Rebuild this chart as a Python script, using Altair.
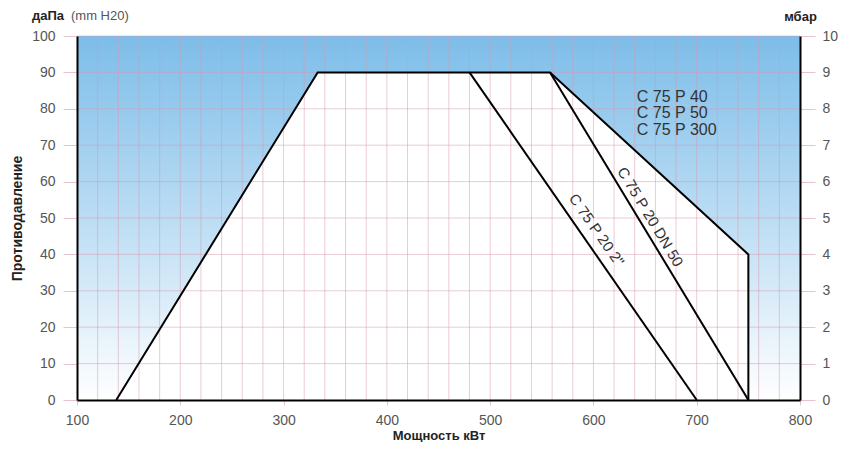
import altair as alt
import pandas as pd

# ---- data ----
x_ticks = [100, 200, 300, 400, 500, 600, 700, 800]
y_ticks = [0, 10, 20, 30, 40, 50, 60, 70, 80, 90, 100]
grid_x = list(range(120, 800, 20))
grid_y = list(range(10, 101, 10))

env_x = [138, 333, 558, 750, 750]
env_y = [0, 90, 90, 40, 0]

line_2in_x = [480, 700]
line_2in_y = [90, 0]
line_dn50_x = [558, 750]
line_dn50_y = [90, 0]

legend_lines = ["C 75 P 40", "C 75 P 50", "C 75 P 300"]
legend_y = [83.2, 78.8, 74.2]
legend_x = [642, 642, 642]

dn50_label = ["C 75 P 20 DN 50"]
dn50_x = [655]
dn50_y = [50.3]
in2_label = ['C 75 P 20 2"']
in2_x = [603]
in2_y = [46.7]

FONT = "Liberation Sans"
GRID = "#d89aae"

xs = alt.Scale(domain=[100, 800], nice=False, zero=False)
ys = alt.Scale(domain=[0, 100], nice=False, zero=False)

# background gradient rect
bg_df = pd.DataFrame({"x": [100], "x2": [800], "y": [0], "y2": [100]})
bg = alt.Chart(bg_df).mark_rect(
    fill=alt.Gradient(
        gradient="linear",
        stops=[alt.GradientStop(color="#7dbde9", offset=0),
               alt.GradientStop(color="#c2e0f5", offset=0.55),
               alt.GradientStop(color="#ffffff", offset=1)],
        x1=0, x2=0, y1=0, y2=1),
).encode(
    x=alt.X("x:Q", scale=xs, axis=alt.Axis(
        values=x_ticks, grid=False, domainColor="black", domainWidth=2,
        tickColor=GRID, tickOpacity=0.6, tickSize=5, labelPadding=8,
        labelFlush=False, labelOverlap=False,
        labelFontSize=14, labelColor="#555", labelFont=FONT,
        title="Мощность кВт", titleFont=FONT, titleFontSize=13,
        titleFontWeight="bold", titleColor="#222", titlePadding=2, zindex=1)),
    x2="x2:Q",
    y=alt.Y("y:Q", scale=ys, axis=alt.Axis(
        values=y_ticks, grid=False, domainColor="black", domainWidth=2,
        tickColor=GRID, tickOpacity=0.6, tickSize=14, labelPadding=8,
        labelFlush=False,
        labelFontSize=14, labelColor="#555", labelFont=FONT,
        title="Противодавление", titleFont=FONT, titleFontSize=14,
        titleFontWeight="bold", titleColor="#222", titlePadding=7, zindex=1)),
    y2="y2:Q",
)

env_df = pd.DataFrame({"x": env_x[:4], "y": env_y[:4]})
env_fill = alt.Chart(env_df).mark_area(color="white", opacity=1, interpolate="linear").encode(
    x=alt.X("x:Q", scale=xs, axis=None),
    y=alt.Y("y:Q", scale=ys, axis=None),
)

gx = alt.Chart(pd.DataFrame({"x": grid_x})).mark_rule(color=GRID, opacity=0.5, strokeWidth=1).encode(
    x=alt.X("x:Q", scale=xs, axis=None),
)
gy = alt.Chart(pd.DataFrame({"y": grid_y})).mark_rule(color=GRID, opacity=0.5, strokeWidth=1).encode(
    y=alt.Y("y:Q", scale=ys, axis=alt.Axis(
        orient="right", values=y_ticks, grid=False, domainColor="black", domainWidth=2,
        tickColor=GRID, tickOpacity=0.6, tickSize=15, labelPadding=7, labelFlush=False,
        labelExpr="datum.value / 10", labelFontSize=14, labelColor="#555", labelFont=FONT,
        title="мбар", titleAngle=0, titleX=0, titleY=-16, titleAlign="center",
        titleBaseline="alphabetic", titleFont=FONT, titleFontSize=13,
        titleFontWeight="bold", titleColor="#222", zindex=1)),
)

lines_df = pd.DataFrame({
    "x": env_x + line_2in_x + line_dn50_x,
    "y": env_y + line_2in_y + line_dn50_y,
    "s": ["env"] * len(env_x) + ["2in"] * 2 + ["dn50"] * 2,
    "o": list(range(len(env_x))) + [0, 1] + [0, 1],
})
lines = alt.Chart(lines_df).mark_line(color="black", strokeWidth=2, strokeJoin="miter").encode(
    x=alt.X("x:Q", scale=xs, axis=None),
    y=alt.Y("y:Q", scale=ys, axis=None),
    detail="s:N",
    order="o:Q",
)

leg_df = pd.DataFrame({"t": legend_lines, "x": legend_x, "y": legend_y})
leg = alt.Chart(leg_df).mark_text(align="left", baseline="middle", fontSize=16,
                                  font=FONT, color="#333").encode(
    x=alt.X("x:Q", scale=xs, axis=None),
    y=alt.Y("y:Q", scale=ys, axis=None),
    text="t:N",
)

dn50 = alt.Chart(pd.DataFrame({"t": dn50_label, "x": dn50_x, "y": dn50_y})).mark_text(
    align="center", baseline="middle", fontSize=15, font=FONT, color="#333", angle=59).encode(
    x=alt.X("x:Q", scale=xs, axis=None),
    y=alt.Y("y:Q", scale=ys, axis=None),
    text="t:N",
)
in2 = alt.Chart(pd.DataFrame({"t": in2_label, "x": in2_x, "y": in2_y})).mark_text(
    align="center", baseline="middle", fontSize=15, font=FONT, color="#333", angle=55).encode(
    x=alt.X("x:Q", scale=xs, axis=None),
    y=alt.Y("y:Q", scale=ys, axis=None),
    text="t:N",
)

unit_b = alt.Chart(pd.DataFrame({"t": ["даПа"]})).mark_text(
    align="left", baseline="alphabetic", fontSize=13, fontWeight="bold",
    font=FONT, color="#222").encode(
    x=alt.value(-45), y=alt.value(-16), text="t:N")
unit_r = alt.Chart(pd.DataFrame({"t": ["(mm H20)"]})).mark_text(
    align="left", baseline="alphabetic", fontSize=13, font=FONT, color="#555").encode(
    x=alt.value(-6), y=alt.value(-16), text="t:N")

chart = alt.layer(bg, env_fill, gx, gy, lines, leg, dn50, in2, unit_b, unit_r).resolve_axis(
    x="independent", y="independent"
).properties(
    width=723, height=364,
    autosize=alt.AutoSizeParams(type="none"),
    padding={"left": 69, "top": 28, "right": 40, "bottom": 42},
).configure_view(stroke=None)

chart.save("out.html", embed_options={"renderer": "svg", "actions": False})
